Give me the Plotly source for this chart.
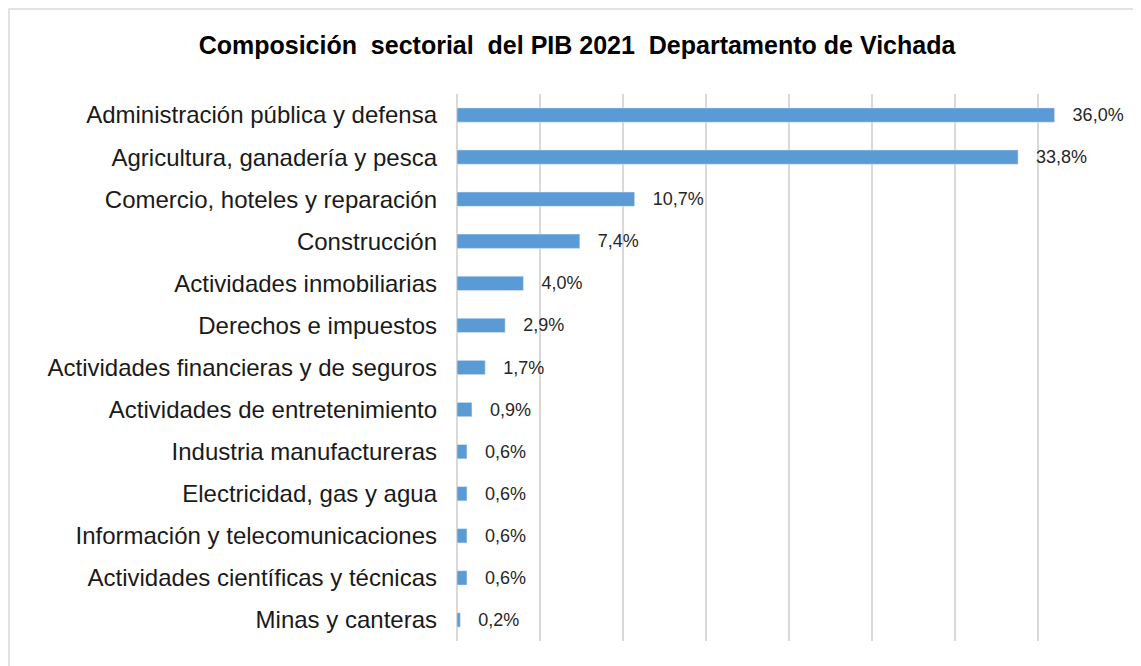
import plotly.graph_objects as go

# Sectors, top to bottom as in the chart
sectores = [
    "Administración pública y defensa",
    "Agricultura, ganadería y pesca",
    "Comercio, hoteles y reparación",
    "Construcción",
    "Actividades inmobiliarias",
    "Derechos e impuestos",
    "Actividades financieras y de seguros",
    "Actividades de entretenimiento",
    "Industria manufactureras",
    "Electricidad, gas y agua",
    "Información y telecomunicaciones",
    "Actividades científicas y técnicas",
    "Minas y canteras",
]
participacion = [36.0, 33.8, 10.7, 7.4, 4.0, 2.9, 1.7, 0.9, 0.6, 0.6, 0.6, 0.6, 0.2]
etiquetas = ["36,0%", "33,8%", "10,7%", "7,4%", "4,0%", "2,9%", "1,7%",
             "0,9%", "0,6%", "0,6%", "0,6%", "0,6%", "0,2%"]

# page body has an 8px margin, so work in figure coords shifted by 8
OFF = 8
W, H = 1141 - OFF, 666 - OFF
L, R, T, B = 457 - OFF, 20, 94 - OFF, 25
pw, ph = W - L - R, H - T - B

fig = go.Figure(go.Bar(
    x=participacion,
    y=sectores,
    orientation="h",
    marker=dict(color="#5B9BD5"),
    text=["   " + e for e in etiquetas],
    textposition="outside",
    constraintext="none",
    textfont=dict(size=18, color="#262626"),
    cliponaxis=False,
    width=0.34,
))


def px(x):
    return (x - OFF - L) / pw


def py_(y):
    return (H - B - (y - OFF)) / ph


fig.update_layout(
    width=W, height=H,
    margin=dict(l=L, r=R, t=T, b=B),
    paper_bgcolor="white", plot_bgcolor="white",
    font=dict(family="Liberation Sans, Arial", color="#1a1a1a"),
    title=dict(text="<b>Composición  sectorial  del PIB 2021  Departamento de Vichada</b>",
               x=(577 - OFF) / W, xanchor="center", y=1 - (45 - OFF) / H, yanchor="middle",
               font=dict(size=25, color="#000000")),
    xaxis=dict(range=[0, 40], dtick=5, showticklabels=False, showgrid=True,
               gridcolor="#D9D9D9", gridwidth=1.5, zeroline=True,
               zerolinecolor="#D9D9D9", zerolinewidth=1.5, fixedrange=True),
    yaxis=dict(autorange="reversed", showgrid=False, ticks="",
               tickfont=dict(size=24, color="#1a1a1a"), ticklabelstandoff=19),
    showlegend=False,
    shapes=[dict(type="rect", xref="paper", yref="paper",
                 x0=px(9), x1=px(1160), y0=py_(9), y1=py_(690),
                 line=dict(color="#D9D9D9", width=1.5))],
)

fig.write_html("out.html")
